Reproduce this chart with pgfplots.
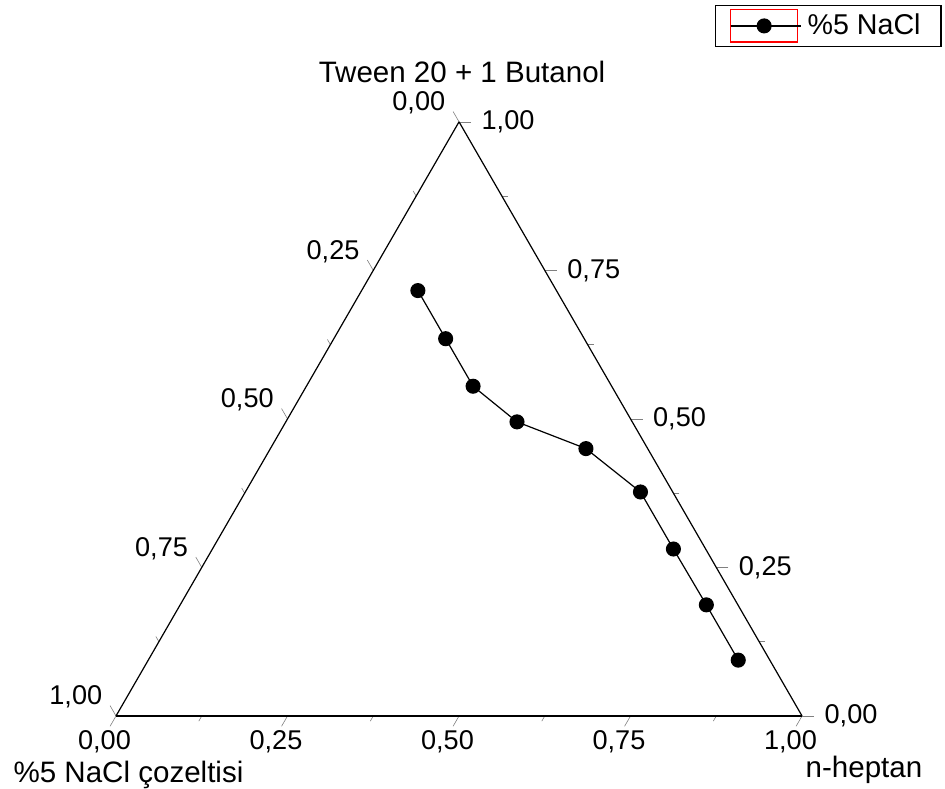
\documentclass[border=0pt]{standalone}
\usepackage{fontspec}
\setmainfont{Liberation Sans}
\usepackage{pgfplots}
\pgfplotsset{compat=1.18}
\usepgfplotslibrary{ternary}

% ternary points: Tween 20 + 1 Butanol, %5 NaCl cozeltisi, n-heptan
\pgfplotstableread{
t      n      h
0.716  0.202  0.082
0.635  0.202  0.163
0.555  0.202  0.243
0.495  0.168  0.337
0.450  0.090  0.460
0.377  0.047  0.576
0.281  0.047  0.672
0.187  0.046  0.767
0.094  0.046  0.860
}\nacl

\begin{document}
\begin{tikzpicture}
\begin{ternaryaxis}[
  scale only axis, width=8cm,
  xmin=0, xmax=1, ymin=0, ymax=1, zmin=0, zmax=1,
  xtick={0,0.25,0.5,0.75,1}, ytick={0,0.25,0.5,0.75,1}, ztick={0,0.25,0.5,0.75,1},
  minor xtick={0.125,0.375,0.625,0.875},
  minor ytick={0.125,0.375,0.625,0.875},
  minor ztick={0.125,0.375,0.625,0.875},
  xticklabels={{0,00},{0,25},{0,50},{0,75},{1,00}},
  yticklabels={{0,00},{0,25},{0,50},{0,75},{1,00}},
  zticklabels={{0,00},{0,25},{0,50},{0,75},{1,00}},
  tick label style={font=\fontsize{9}{10}\selectfont},
  yticklabel style={xshift=0.035cm, yshift=-0.15cm},
  zticklabel style={xshift=-0.065cm, yshift=-0.01cm, inner sep=1pt},
  major tick length=0.14cm, minor tick length=0.07cm,
  grid=none,
  axis line style={black, line width=0.4pt},
  /pgf/number format/assume math mode=true,
  legend style={at={(1.204,1.197)}, anchor=north east, draw=black,
    line width=0.5pt, inner xsep=0.17cm, inner ysep=0.02cm,
    font=\fontsize{9.5}{11}\selectfont},
  legend cell align=left,
  legend image code/.code={
    \path (0cm,0cm) -- (0.82cm,0cm);
    \draw[red, line width=0.5pt] (0cm,-0.19cm) rectangle (0.78cm,0.19cm);
    \draw[black, line width=0.4pt] (0cm,0cm) -- (0.78cm,0cm);
    \fill[black] (0.39cm,0cm) circle (2.3pt);
  },
]
\addplot3[black, line width=0.4pt, mark=*, mark size=2.3pt,
  mark options={fill=black}] table[x=t, y=n, z=h] {\nacl};
\addlegendentry{\%5 NaCl}
\coordinate (L) at (axis cs:0,1,0);
\coordinate (R) at (axis cs:0,0,1);
\coordinate (T) at (axis cs:1,0,0);
\end{ternaryaxis}
\node[font=\fontsize{9.8}{11}\selectfont, anchor=center] at ([shift={(0.035cm,0.583cm)}]T) {Tween 20 + 1 Butanol};
\node[font=\fontsize{9.8}{11}\selectfont, anchor=base west, inner sep=0pt] at ([shift={(-1.201cm,-0.78cm)}]L) {\%5 NaCl çozeltisi};
\node[font=\fontsize{9.8}{11}\selectfont, anchor=base west, inner sep=0pt] at ([shift={(0.035cm,-0.72cm)}]R) {n-heptan};
\pgfresetboundingbox
\path (L) ++(-1.353cm,-0.851cm) rectangle ++(11.02cm,9.20cm);
\end{tikzpicture}
\end{document}
